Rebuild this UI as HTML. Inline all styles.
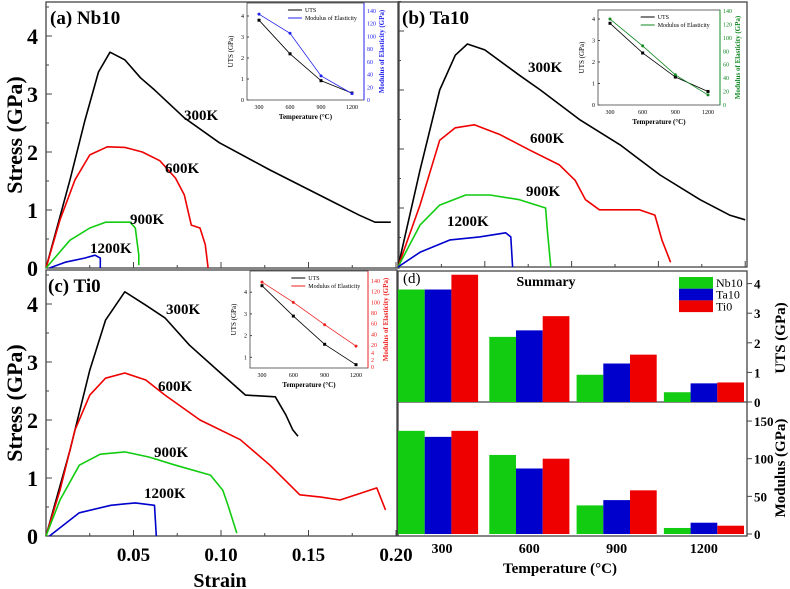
<!DOCTYPE html>
<html><head><meta charset="utf-8"><style>
html,body{margin:0;padding:0;background:#fff;}
svg{display:block;font-family:"Liberation Serif",serif;}
</style></head><body>
<svg id="fig" width="790" height="589" viewBox="0 0 790 589"></svg>
<script>
// ---- data ----
const strainLabels = ["0.05","0.10","0.15","0.20"];
const strainTicks = [0.05,0.10,0.15,0.20];
const stressTicks = [0,1,2,3,4];
// Nb10 curves [strain, stress]
const nb300 = [[0,0],[0.0137,1.52],[0.0223,2.55],[0.030,3.38],[0.0366,3.72],[0.045,3.59],[0.054,3.28],[0.062,3.07],[0.079,2.59],[0.099,2.16],[0.128,1.69],[0.162,1.17],[0.179,0.91],[0.188,0.79],[0.197,0.79]];
const nb600 = [[0,0],[0.008,0.83],[0.0166,1.52],[0.025,1.95],[0.035,2.09],[0.045,2.08],[0.055,2.0],[0.065,1.85],[0.074,1.55],[0.079,1.26],[0.083,0.74],[0.088,0.69],[0.091,0.40],[0.0926,0]];
const nb900 = [[0,0],[0.0137,0.48],[0.025,0.69],[0.034,0.79],[0.048,0.79],[0.051,0.69],[0.053,0.22],[0.053,0.05]];
const nb1200 = [[0.002,0],[0.011,0.1],[0.022,0.17],[0.028,0.22],[0.031,0.17],[0.031,0]];
// Ta10
const ta300 = [[0,0],[0.0127,1.64],[0.024,3.0],[0.033,3.59],[0.040,3.78],[0.050,3.68],[0.070,3.25],[0.082,3.0],[0.105,2.49],[0.128,2.07],[0.151,1.56],[0.174,1.14],[0.191,0.88],[0.200,0.8]];
const ta600 = [[0,0],[0.0127,1.05],[0.024,2.15],[0.033,2.36],[0.044,2.41],[0.059,2.24],[0.076,1.98],[0.093,1.73],[0.102,1.47],[0.108,1.14],[0.116,0.97],[0.139,0.97],[0.148,0.88],[0.152,0.46],[0.157,0.08]];
const ta900 = [[0,0],[0.0127,0.71],[0.024,1.05],[0.039,1.22],[0.053,1.22],[0.070,1.14],[0.085,1.0],[0.086,0.63],[0.088,0]];
const ta1200 = [[0,0],[0.0127,0.25],[0.030,0.46],[0.047,0.51],[0.062,0.58],[0.065,0.51],[0.066,0]];
// Ti0
const ti300 = [[0,0],[0.0137,1.48],[0.025,2.86],[0.034,3.72],[0.045,4.21],[0.057,3.98],[0.068,3.76],[0.082,3.29],[0.099,2.83],[0.114,2.43],[0.131,2.40],[0.137,2.09],[0.141,1.83],[0.144,1.72]];
const ti600 = [[0,0],[0.008,0.79],[0.0166,1.83],[0.025,2.43],[0.034,2.72],[0.045,2.81],[0.057,2.69],[0.068,2.43],[0.088,2.0],[0.111,1.66],[0.128,1.22],[0.145,0.71],[0.157,0.67],[0.168,0.62],[0.180,0.74],[0.189,0.83],[0.194,0.45]];
const ti900 = [[0,0],[0.008,0.62],[0.019,1.22],[0.031,1.41],[0.045,1.45],[0.059,1.36],[0.074,1.22],[0.094,1.05],[0.101,0.79],[0.104,0.53],[0.109,0.05]];
const ti1200 = [[0.002,0],[0.019,0.4],[0.037,0.53],[0.051,0.57],[0.062,0.53],[0.063,0]];
// insets / summary
const temps = [300,600,900,1200];
const utsNb = [3.8,2.2,0.92,0.33];
const utsTa = [3.8,2.42,1.3,0.63];
const utsTi = [4.3,2.9,1.6,0.66];
const modNb = [137,105,38,8];
const modTa = [129,87,45,15];
const modTi = [137,100,58,11];
const insetModA = [135,105,38,10];
const insetModB = [128,88,45,15];
const insetModC = [138,100,58,18];
const utsTicks = [0,1,2,3,4];
const modTicks = [0,50,100,150];

const NS="http://www.w3.org/2000/svg";
const svg=document.getElementById('fig');
function mk(tag,attrs,parent){const e=document.createElementNS(NS,tag);for(const k in attrs)e.setAttribute(k,attrs[k]);(parent||svg).appendChild(e);return e;}
function txt(s,x,y,size,weight,anchor,fill,parent,rot){const t=mk('text',{x:x,y:y,'font-size':size,'font-weight':weight,'text-anchor':anchor||'start',fill:fill||'#000'},parent);if(rot)t.setAttribute('transform','rotate(-90 '+x+' '+y+')');t.textContent=s;return t;}

function panel(name,x0,x1,y0,y1,sx,sy,curves,title,labels,showTickLabels,showXLabels){
  const g=mk('g',{});
  
  
  const X=v=>x0+v*sx, Y=v=>y0-v*sy;
  const fr=mk('rect',{x:x0,y:y1,width:x1-x0,height:y0-y1,fill:'none',stroke:'#444','stroke-width':1.3},g);
  
  
  for(let s=0.025;s<0.2;s+=0.025){mk('line',{x1:X(s),x2:X(s),y1:y0,y2:y0-(Math.abs(s*20-Math.round(s*20))<0.01?6:3),stroke:'#444'},g);}
  stressTicks.forEach(v=>{mk('line',{x1:x0,x2:x0+6,y1:Y(v),y2:Y(v),stroke:'#444'},g);mk('line',{x1:x0,x2:x0+3,y1:Y(v+0.5),y2:Y(v+0.5),stroke:'#444'},g);
    if(showTickLabels){const t=txt(String(v),x0-8,Y(v)+8,22,'bold','end','#000',g);}});
  if(showXLabels){strainTicks.forEach((v,i)=>{const t=txt(strainLabels[i],X(v),561,19,'bold','middle','#000',g);});}
  curves.forEach(c=>{const p=mk('polyline',{points:c.d.map(q=>X(q[0]).toFixed(1)+','+Y(q[1]).toFixed(1)).join(' '),fill:'none',stroke:c.col,'stroke-width':1.6,'stroke-linejoin':'round'},g);
    });
  const tt=txt(title[0],title[1],title[2],19,'bold','start','#000',g);
  labels.forEach(l=>{const t=txt(l[0],l[1],l[2],15,'bold','start','#000',g);});
}
panel('panel-a-nb10',46,399,268,2,1750,58,[{d:nb300,col:'#000',n:'curve-300k'},{d:nb600,col:'#e00',n:'curve-600k'},{d:nb900,col:'#1c1',n:'curve-900k'},{d:nb1200,col:'#00c',n:'curve-1200k'}],['(a) Nb10',50,24],[['300K',184,120],['600K',165,173],['900K',130,224],['1200K',90,253]],true,false);
panel('panel-b-ta10',398,747,267,2,1736,59,[{d:ta300,col:'#000',n:'curve-300k'},{d:ta600,col:'#e00',n:'curve-600k'},{d:ta900,col:'#1c1',n:'curve-900k'},{d:ta1200,col:'#00c',n:'curve-1200k'}],['(b) Ta10',402,24],[['300K',528,72],['600K',530,143],['900K',526,196],['1200K',447,226]],false,false);
panel('panel-c-ti0',46,397,536,270,1750,58,[{d:ti300,col:'#000',n:'curve-300k'},{d:ti600,col:'#e00',n:'curve-600k'},{d:ti900,col:'#1c1',n:'curve-900k'},{d:ti1200,col:'#00c',n:'curve-1200k'}],['(c) Ti0',48,292],[['300K',166,314],['600K',158,391],['900K',154,457],['1200K',144,498]],true,true);
let t;
t=txt('Stress (GPa)',22,135,22,'bold','middle','#000',svg,true);
t=txt('Stress (GPa)',22,403,22,'bold','middle','#000',svg,true);
t=txt('Strain',220,587,20,'bold','middle');

// insets
function inset(name,x0,x1,yb,yt,col,uts,mod,Yu,Ym,tickUts,modLabels){
  const g=mk('g',{});
  
  
  mk('rect',{x:x0,y:yt,width:x1-x0,height:yb-yt,fill:'#fff',stroke:'#444','stroke-width':0.8},g);
  mk('line',{x1:x1,x2:x1,y1:yt,y2:yb,stroke:col,'stroke-width':1},g);
  const cx=i=>x0+12+i*(x1-x0-24)/3;
  tickUts.forEach(v=>{txt(String(v),x0-3,Yu(v)+2,6,'normal','end','#000',g);mk('line',{x1:x0,x2:x0+2,y1:Yu(v),y2:Yu(v),stroke:'#444'},g);});
  modLabels.forEach(m=>{txt(m[0],x1+3,m[1]+2,6,'normal','start',col,g);});
  temps.forEach((v,i)=>txt(String(v),cx(i),yb+9,6,'normal','middle','#000',g));
  txt('Temperature (°C)',(x0+x1)/2,yb+19,7,'bold','middle','#000',g);
  txt('UTS (GPa)',x0-14,(yt+yb)/2,7,'normal','middle','#000',g,true);
  txt('Modulus of Elasticity (GPa)',x1+20,(yt+yb)/2,7,'bold','middle',col,g,true);
  const pu=mk('polyline',{points:uts.map((v,i)=>cx(i)+','+Yu(v)).join(' '),fill:'none',stroke:'#000','stroke-width':0.8},g);
  
  const pm=mk('polyline',{points:mod.map((v,i)=>cx(i)+','+Ym(v)).join(' '),fill:'none',stroke:col,'stroke-width':0.8},g);
  
  uts.forEach((v,i)=>mk('rect',{x:cx(i)-1.5,y:Yu(v)-1.5,width:3,height:3,fill:'#000'},g));
  mod.forEach((v,i)=>mk('circle',{cx:cx(i),cy:Ym(v),r:1.5,fill:col},g));
  const lx=x0+(x1-x0)*0.35;
  mk('line',{x1:lx,x2:lx+14,y1:yt+7,y2:yt+7,stroke:'#000'},g);txt('UTS',lx+17,yt+9,6,'normal','start','#000',g);
  mk('line',{x1:lx,x2:lx+14,y1:yt+15,y2:yt+15,stroke:col},g);txt('Modulus of Elasticity',lx+17,yt+17,6,'normal','start','#000',g);
}
const modStd=[0,20,40,60,80,100,120,140];
const yuA=v=>100-v*21, ymA=v=>100-v*89/140;
inset('inset-a',247,364,100,3,'#22e',utsNb,insetModA,yuA,ymA,[0,1,2,3,4],modStd.map(v=>[String(v),ymA(v)]));
const yuB=v=>105-v*21.5, ymB=v=>105-v*94/140;
inset('inset-b',598,720,105,10,'#182',utsTa,insetModB,yuB,ymB,[0,1,2,3,4],modStd.map(v=>[String(v),ymB(v)]));
const yuC=v=>379-v*21.7, ymC=v=>345-(v-20)*64/120;
inset('inset-c',250,368,368,271,'#e22',utsTi,insetModC,yuC,ymC,[1,2,3,4],[20,40,60,80,100,120,140].map(v=>[String(v),ymC(v)]).concat([['4',353],['2',360],['0',367]]));

// summary panel d
const gd=mk('g',{});


const dx0=398,dx1=747,uy0=402,uy1=271,my0=534;
mk('rect',{x:dx0,y:uy1,width:dx1-dx0,height:536-uy1,fill:'none',stroke:'#444','stroke-width':1.3},gd);
mk('line',{x1:dx0,x2:dx1,y1:uy0,y2:uy0,stroke:'#444','stroke-width':1.3},gd);
const Yuts=v=>uy0-v*29.6, Ymod=v=>my0-v*0.753;
const gx=i=>dx0+i*87.3;
const series=[['nb10',utsNb,modNb,'#1c1'],['ta10',utsTa,modTa,'#00c'],['ti0',utsTi,modTi,'#e00']];
series.forEach((s,si)=>{temps.forEach((tp,i)=>{
  const x=gx(i)+si*26.7+(i===0?0:4);
  const b=mk('rect',{x:x,y:Yuts(s[1][i]),width:26.7,height:uy0-Yuts(s[1][i]),fill:s[3]},gd);
  
  const m=mk('rect',{x:x,y:Ymod(s[2][i]),width:26.7,height:my0-Ymod(s[2][i]),fill:s[3]},gd);
  
});});
utsTicks.forEach(v=>{mk('line',{x1:dx1,x2:dx1+5,y1:Yuts(v),y2:Yuts(v),stroke:'#444'},gd);const l=txt(String(v),dx1+7,Yuts(v)+5,13,'bold','start','#000',gd);});
modTicks.forEach(v=>{mk('line',{x1:dx1,x2:dx1+5,y1:Ymod(v),y2:Ymod(v),stroke:'#444'},gd);const l=txt(String(v),dx1+7,Ymod(v)+5,13,'bold','start','#000',gd);});
temps.forEach((tp,i)=>{const l=txt(String(tp),gx(i)+44,553,14,'bold','middle','#000',gd);});
t=txt('Temperature (°C)',560,573,15,'bold','middle','#000',gd);
t=txt('UTS (GPa)',785,338,15,'bold','middle','#000',gd,true);
t=txt('Modulus (GPa)',785,468,15,'bold','middle','#000',gd,true);
t=txt('Summary',546,286,14,'bold','middle','#000',gd);
t=txt('(d)',403,283,15,'normal','start','#000',gd);
[['Nb10','#1c1'],['Ta10','#00c'],['Ti0','#e00']].forEach((l,i)=>{
  const r=mk('rect',{x:679,y:277+i*11.7,width:34,height:11.7,fill:l[1]},gd);
  
  const lt=txt(l[0],716,287+i*11.7,12,'normal','start','#000',gd);
  
});
</script>
</body></html>
